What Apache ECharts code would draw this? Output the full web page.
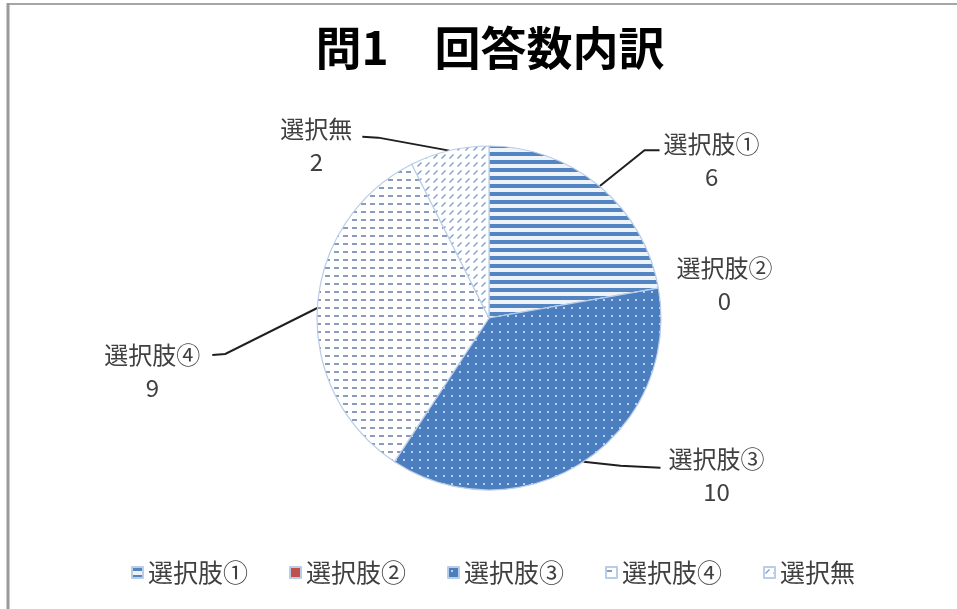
<!DOCTYPE html>
<html><head><meta charset="utf-8">
<script src="https://cdn.jsdelivr.net/npm/echarts@6/dist/echarts.min.js"></script>
<style>html,body{margin:0;padding:0;background:#fff}#c{width:957px;height:609px}</style>
</head><body><div id="c"></div>
<script>
const titleText = '問1　回答数内訳';
const categories = ['選択肢①', '選択肢②', '選択肢③', '選択肢④', '選択無'];
const values = [6, 0, 10, 9, 2];

// label placement relative to each slice's leader anchor (layout only):
// [labelCenterDx, labelCenterDy, bendDx, bendDy, endDx, endDy, showLine]
const labelOffsets = [
  [112, -26, 45, -36, 60, -36, true],
  [66, -4, 0, 0, 0, 0, false],
  [133, 14, 37, 4, 77, 6, true],
  [-165, 63, -92, 46, -105, 47, true],
  [-133, -5, -71, -13, -87, -14, true]
];

function pat(w, h, draw) {
  const c = document.createElement('canvas');
  c.width = w; c.height = h;
  const g = c.getContext('2d');
  draw(g);
  return { image: c, repeat: 'repeat' };
}
const fills = [
  pat(8, 8, g => { g.fillStyle = '#eef3fa'; g.fillRect(0, 0, 8, 8); g.fillStyle = '#5285c2'; g.fillRect(0, 0, 8, 4); }),
  '#c0504d',
  pat(8, 8, g => { g.fillStyle = '#4a7ebf'; g.fillRect(0, 0, 8, 8); g.fillStyle = '#b9cfec'; g.fillRect(3, 3, 2, 2); }),
  pat(9, 8, g => { g.fillStyle = '#ffffff'; g.fillRect(0, 0, 9, 8); g.fillStyle = '#8a9bbb'; g.fillRect(1, 3, 5, 2); }),
  pat(8, 8, g => { g.fillStyle = '#ffffff'; g.fillRect(0, 0, 8, 8); g.strokeStyle = '#7a9ccc'; g.lineWidth = 1.3; g.beginPath(); g.moveTo(1.5, 6.5); g.lineTo(5.5, 2.5); g.stroke(); })
];

const FONT = '"Noto Sans CJK JP", "Noto Sans", sans-serif';
const chart = echarts.init(document.getElementById('c'), null, { renderer: 'canvas' });

chart.setOption({
  backgroundColor: '#ffffff',
  animation: false,
  title: {
    text: titleText,
    left: 485,
    textAlign: 'center',
    top: 20,
    textStyle: { fontFamily: FONT, fontSize: 46, fontWeight: 'bold', color: '#000000' }
  },
  legend: {
    data: categories,
    left: 126,
    top: 555,
    itemWidth: 11,
    itemHeight: 11,
    itemGap: 41,
    icon: 'rect',
    textStyle: { fontFamily: FONT, fontSize: 25, color: '#404040' }
  },
  graphic: [
    { type: 'line', shape: { x1: 8, y1: 4, x2: 957, y2: 4 }, style: { stroke: '#a6a6a6', lineWidth: 2 } },
    { type: 'line', shape: { x1: 8, y1: 3, x2: 8, y2: 609 }, style: { stroke: '#9a9a9a', lineWidth: 3 } }
  ],
  series: [{
    type: 'pie',
    center: [489, 318],
    radius: 172,
    startAngle: 90,
    clockwise: true,
    avoidLabelOverlap: false,
    itemStyle: { borderColor: '#b9cde8', borderWidth: 1.2 },
    label: {
      show: true,
      position: 'outside',
      formatter: '{b}\n{c}',
      fontFamily: FONT,
      fontSize: 24,
      lineHeight: 33,
      color: '#404040'
    },
    labelLine: { show: true, length: 20, length2: 20, lineStyle: { color: '#1f1f1f', width: 2 } },
    labelLayout: function (p) {
      const o = labelOffsets[p.dataIndex];
      const pts = p.labelLinePoints;
      if (!pts) return {};
      const a = pts[0];
      const res = { x: a[0] + o[0], y: a[1] + o[1], align: 'center', verticalAlign: 'middle' };
      if (o[6]) {
        res.labelLinePoints = [[a[0], a[1]], [a[0] + o[2], a[1] + o[3]], [a[0] + o[4], a[1] + o[5]]];
      } else {
        res.labelLinePoints = [[a[0], a[1]], [a[0], a[1]], [a[0], a[1]]];
      }
      return res;
    },
    emphasis: { disabled: true },
    data: categories.map((name, i) => ({
      name: name,
      value: values[i],
      itemStyle: { color: fills[i] },
      labelLine: labelOffsets[i][6] ? undefined : { lineStyle: { opacity: 0 } }
    }))
  }]
});
</script>
</body></html>
